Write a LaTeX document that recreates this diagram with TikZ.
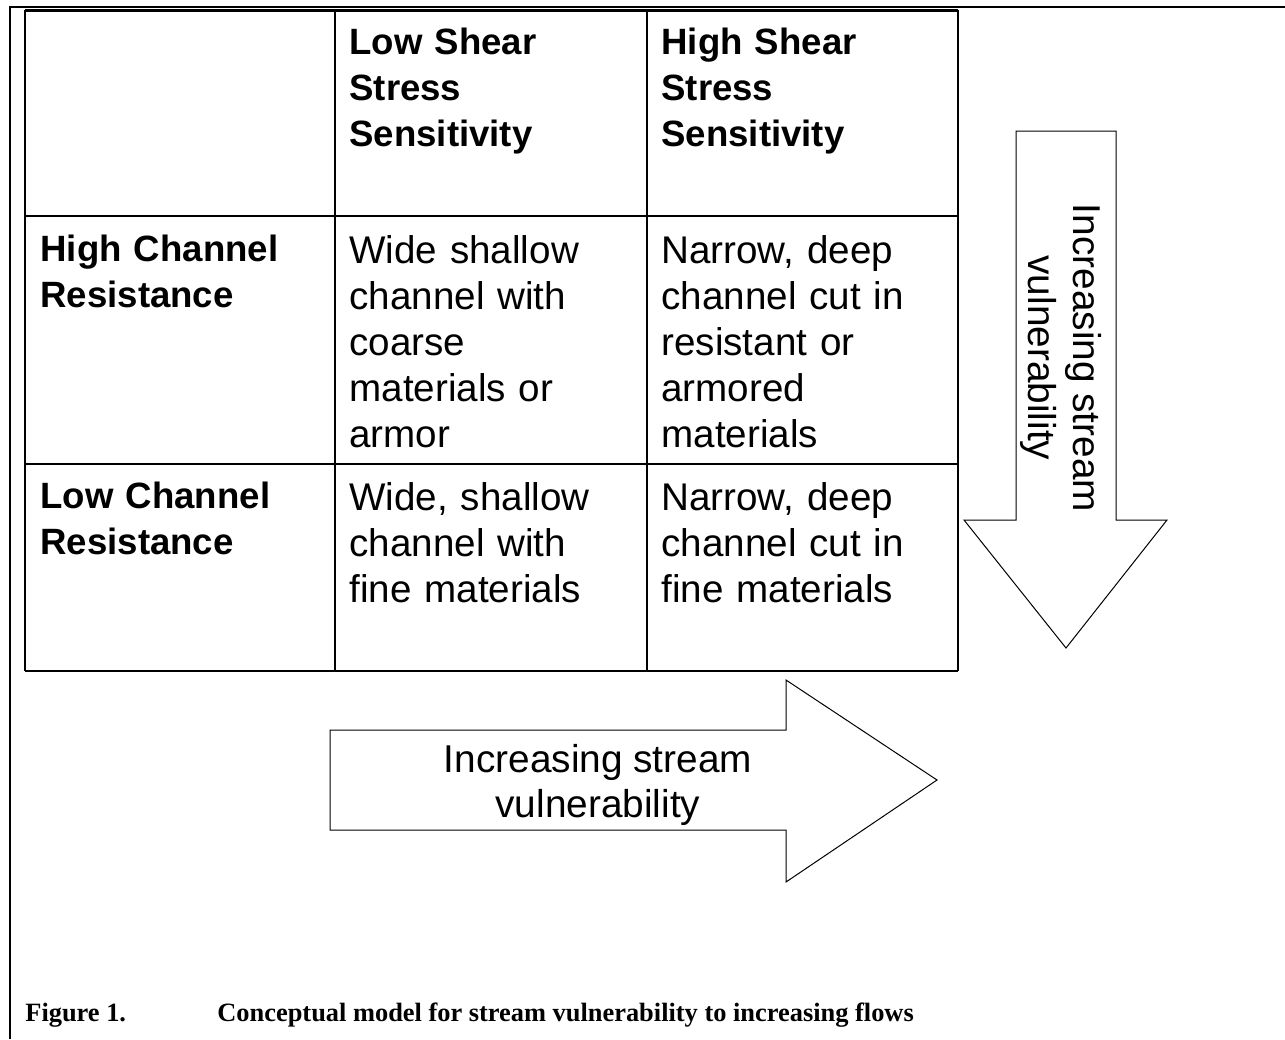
\documentclass[tikz,border=0pt]{standalone}
\usepackage{fontspec}
\setmainfont{Liberation Serif}
\newfontfamily\arialfont{Liberation Sans}
\usepackage{tikz}

\tikzset{
  celltext/.style={anchor=north west,inner sep=0pt,text width=145pt,align=left,
    font=\arialfont\fontsize{19.3}{23}\selectfont},
  headtext/.style={celltext,font=\arialfont\bfseries\fontsize{18.3}{23}\selectfont},
  arrowtext/.style={inner sep=0pt,align=center,
    font=\arialfont\fontsize{19.4}{22.5}\selectfont},
  captext/.style={anchor=base west,inner sep=0pt,
    font=\bfseries\fontsize{13.2}{15}\selectfont}
}

\begin{document}
\begin{tikzpicture}[x=0.5pt,y=-0.5pt]
      \useasboundingbox (0,0) rectangle (1285,1039);

      \draw [line width=1pt] (10,1039) to (10,7) to (1285,7);

      \draw [line width=1.5pt] (25,10) to (958,10);
      \draw [line width=1pt] (25,216) to (958,216);
      \draw [line width=1pt] (25,464) to (958,464);
      \draw [line width=1pt] (25,671) to (958,671);
      \draw [line width=1pt] (25,10) to (25,671);
      \draw [line width=1pt] (335,10) to (335,671);
      \draw [line width=1pt] (647,10) to (647,671);
      \draw [line width=1pt] (958,10) to (958,671);

      \node [headtext] (lowshear) at (349,28) {Low Shear\\Stress\\Sensitivity};
      \node [headtext] (highshear) at (661,28) {High Shear\\Stress\\Sensitivity};
      \node [headtext] (highres) at (40,235) {High Channel\\Resistance};
      \node [headtext] (lowres) at (40,482) {Low Channel\\Resistance};

      \node [celltext] (widecoarse) at (349,235)
        {Wide shallow\\channel with\\coarse\\materials or\\armor};
      \node [celltext] (narrowarmor) at (661,235)
        {Narrow, deep\\channel cut in\\resistant or\\armored\\materials};
      \node [celltext] (widefine) at (349,482)
        {Wide, shallow\\channel with\\fine materials};
      \node [celltext] (narrowfine) at (661,482)
        {Narrow, deep\\channel cut in\\fine materials};

      \draw [line width=0.5pt] (1016,131) to (1116,131) to (1116,520) to (1167,520)
        to (1066,648) to (964,520) to (1016,520) to cycle;
      \node [arrowtext,rotate=-90] (downlabel) at (1061,358)
        {Increasing stream\\vulnerability};

      \draw [line width=0.5pt] (330,730) to (786,730) to (786,680) to (937,780)
        to (786,882) to (786,830) to (330,830) to cycle;
      \node [arrowtext] (rightlabel) at (598,785)
        {Increasing stream\\vulnerability};

      \node [captext] (figlabel) at (25,1021) {Figure 1.};
      \node [captext] (figcaption) at (217,1021)
        {Conceptual model for stream vulnerability to increasing flows};

    \end{tikzpicture}
\end{document}
